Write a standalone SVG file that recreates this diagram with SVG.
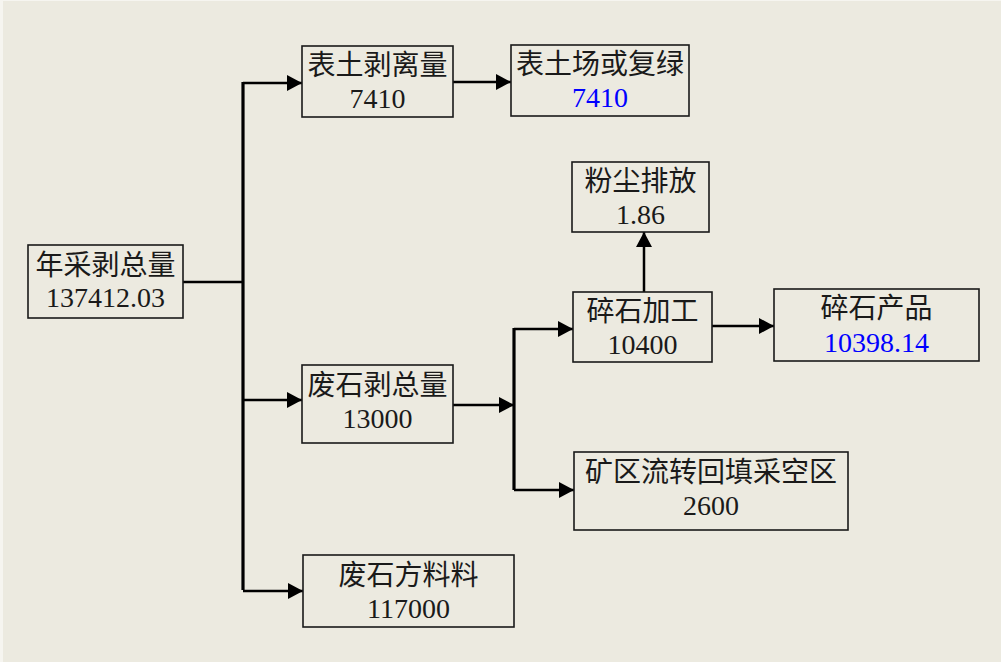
<svg xmlns="http://www.w3.org/2000/svg" width="1001" height="662" viewBox="0 0 1001 662">
<defs>
<style>
.box{fill:none;stroke:#1a1a1a;stroke-width:1.6}
.t{font-family:"Liberation Serif","Noto Sans CJK SC",serif;font-size:28px;fill:#1a1a1a;text-anchor:middle}
.b{fill:#0000ff}
.ln{fill:none;stroke:#000;stroke-width:2.5}
.tr{fill:none;stroke:#000;stroke-width:3.2}
</style>
<marker id="ah" markerWidth="15" markerHeight="16" refX="15" refY="8" orient="auto" markerUnits="userSpaceOnUse">
<path d="M0,0 L15,8 L0,16 Z" fill="#000"/>
</marker>
</defs>
<rect x="0" y="0" width="1001" height="662" fill="#f6f5f0"/>
<rect x="3" y="1" width="998" height="661" fill="#eceae0"/>
<g id="connectors">
<path class="ln" d="M183,282 H243"/>
<path class="tr" d="M243,82 V590"/>
<path class="ln" d="M243,83 H302" marker-end="url(#ah)"/>
<path class="ln" d="M243,400 H302" marker-end="url(#ah)"/>
<path class="ln" d="M243,591 H303" marker-end="url(#ah)"/>
<path class="ln" d="M453,82 H511" marker-end="url(#ah)"/>
<path class="ln" d="M453,405 H514" marker-end="url(#ah)"/>
<path class="tr" d="M514,328 V490"/>
<path class="ln" d="M514,329 H573" marker-end="url(#ah)"/>
<path class="ln" d="M514,490 H574" marker-end="url(#ah)"/>
<path class="ln" d="M644,292 V232" marker-end="url(#ah)"/>
<path class="ln" d="M712,326 H774" marker-end="url(#ah)"/>
</g>
<g id="n_total">
<rect class="box" x="28" y="245" width="155" height="73"/>
<text class="t" x="105.5" y="275">年采剥总量</text>
<text class="t" x="105.5" y="307">137412.03</text>
</g>
<g id="n_topsoil">
<rect class="box" x="302" y="46" width="151" height="71"/>
<text class="t" x="377.5" y="75">表土剥离量</text>
<text class="t" x="377.5" y="108">7410</text>
</g>
<g id="n_topsoil_dest">
<rect class="box" x="511" y="45" width="178" height="71"/>
<text class="t" x="600" y="74">表土场或复绿</text>
<text class="t b" x="600" y="107">7410</text>
</g>
<g id="n_dust">
<rect class="box" x="572" y="162" width="137" height="70"/>
<text class="t" x="640.5" y="191">粉尘排放</text>
<text class="t" x="640.5" y="224">1.86</text>
</g>
<g id="n_crush">
<rect class="box" x="573" y="292" width="139" height="70"/>
<text class="t" x="642.5" y="321">碎石加工</text>
<text class="t" x="642.5" y="354">10400</text>
</g>
<g id="n_product">
<rect class="box" x="774" y="289" width="205" height="72"/>
<text class="t" x="876.5" y="318">碎石产品</text>
<text class="t b" x="876.5" y="352">10398.14</text>
</g>
<g id="n_waste">
<rect class="box" x="302" y="365" width="151" height="78"/>
<text class="t" x="377.5" y="395">废石剥总量</text>
<text class="t" x="377.5" y="428">13000</text>
</g>
<g id="n_backfill">
<rect class="box" x="574" y="452" width="274" height="78"/>
<text class="t" x="711" y="482">矿区流转回填采空区</text>
<text class="t" x="711" y="515">2600</text>
</g>
<g id="n_stone">
<rect class="box" x="303" y="555" width="211" height="72"/>
<text class="t" x="408.5" y="585">废石方料料</text>
<text class="t" x="408.5" y="618">117000</text>
</g>
</svg>
